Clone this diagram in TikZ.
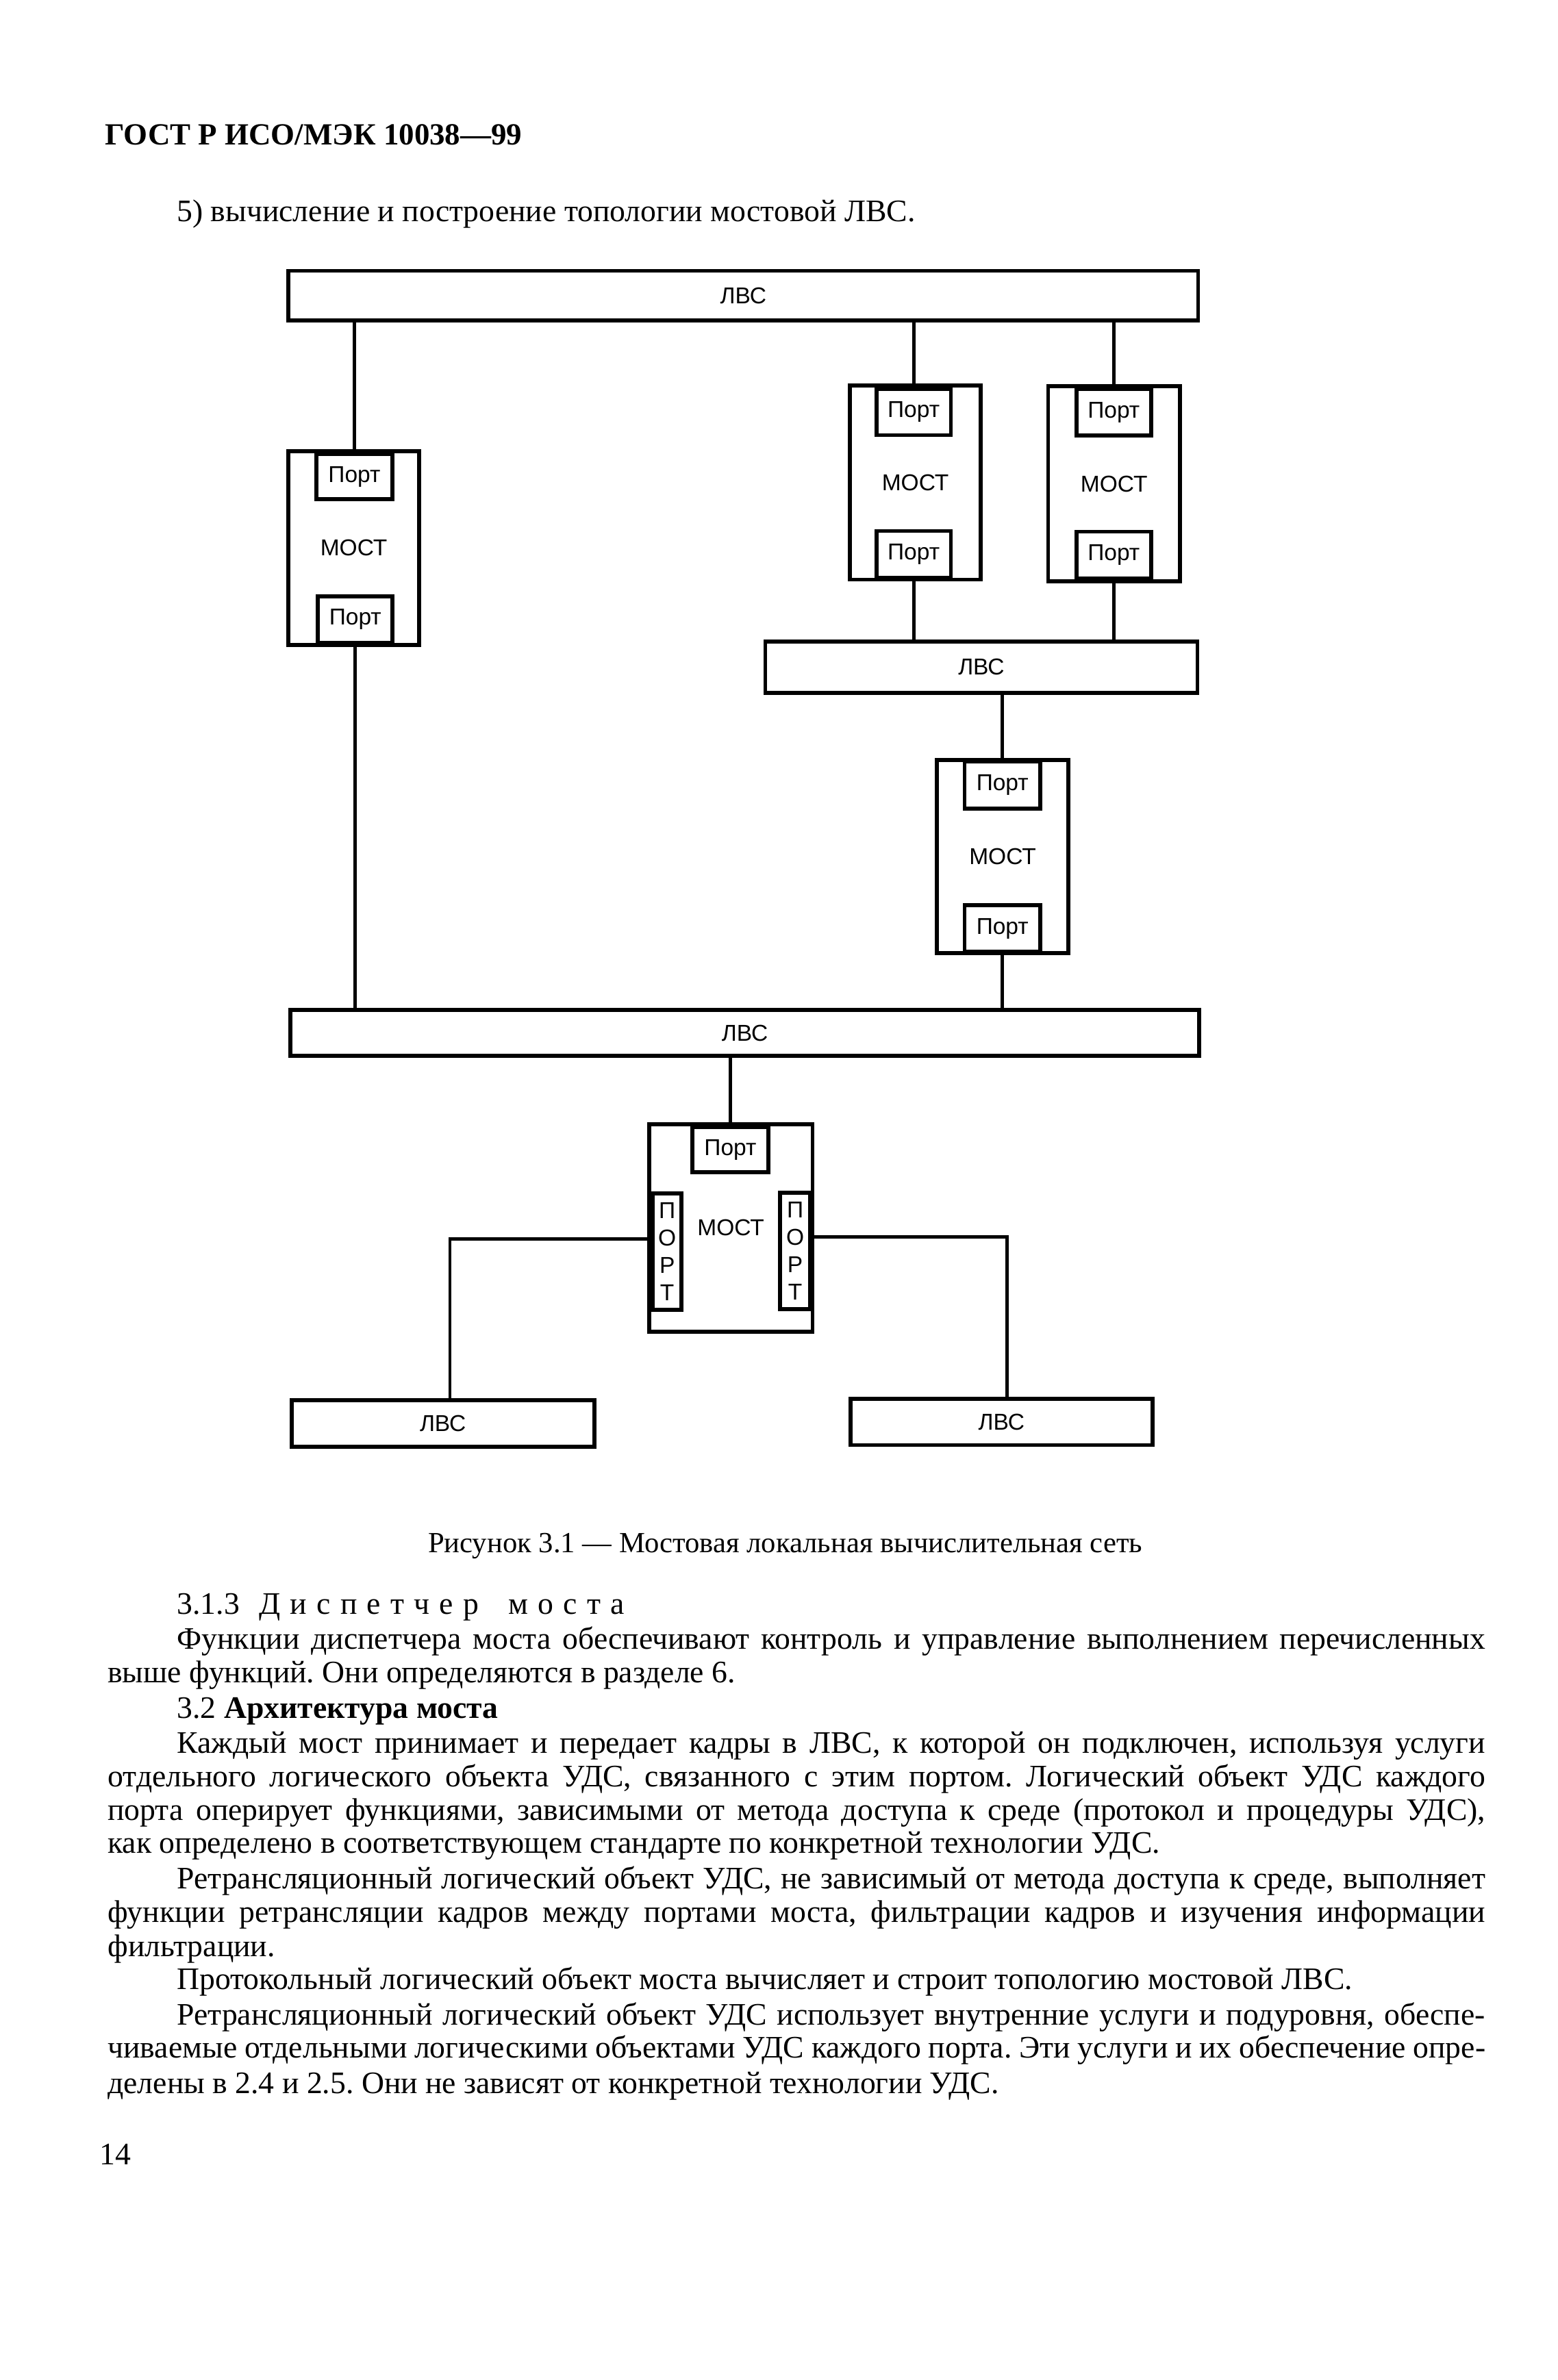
\documentclass[tikz,border=0pt]{standalone}
\usepackage{fontspec}
\setmainfont{Liberation Serif}
\newfontfamily\diagfont{Liberation Sans}
\newlength\fullw \setlength\fullw{528.2pt}
\newlength\indw \setlength\indw{501.6pt}
\frenchspacing
\begin{document}
\begin{tikzpicture}[x=0.5833pt,y=-0.5833pt,
  wh/.style 2 args={minimum width={#1*0.5833pt}, minimum height={#2*0.5833pt}},
  box/.style={draw, line width=1.5pt, fill=white, inner sep=0pt,
    font=\diagfont\fontsize{8.8}{10.5}\selectfont},
  conn/.style={line width=1.3pt},
  txt/.style={anchor=base west, inner sep=0pt, font=\fontsize{12}{13}\selectfont},
]
\useasboundingbox (0,0) rectangle (1024,1564.6);

% ---------- LANs ----------
\node[box, wh={598}{32.5}] (lanA) at (488.5,194.25) {ЛВС};
\node[box, wh={284}{34}]   (lanB) at (645,438.6) {ЛВС};
\node[box, wh={597}{30}]   (lanC) at (489.5,679) {ЛВС};
\node[box, wh={199}{30.5}] (lanD) at (291.1,935.75) {ЛВС};
\node[box, wh={198.5}{30.4}] (lanE) at (658.25,934.8) {ЛВС};

% ---------- bridges ----------
\node[box, wh={86}{127.5}] (brA) at (232.5,360.25) {МОСТ};
\node[box, wh={50}{29.5}] (pA1) at (232.9,313.3) {Порт};
\node[box, wh={49}{30.5}] (pA2) at (233.5,407.3) {Порт};

\node[box, wh={86}{127.5}] (brB) at (601.6,317.25) {МОСТ};
\node[box, wh={49}{30.5}] (pB1) at (600.5,270.75) {Порт};
\node[box, wh={49}{31}] (pB2) at (600.5,364.5) {Порт};

\node[box, wh={86.5}{128}] (brC) at (732.2,318) {МОСТ};
\node[box, wh={49}{30.5}] (pC1) at (732,271) {Порт};
\node[box, wh={49}{31}] (pC2) at (732,365) {Порт};

\node[box, wh={86.4}{127}] (brD) at (659,563) {МОСТ};
\node[box, wh={49.7}{31}] (pD1) at (658.85,516) {Порт};
\node[box, wh={49.7}{30.7}] (pD2) at (658.85,610.35) {Порт};

\node[box, wh={107.3}{136.5}] (brE) at (480.35,807.25) {МОСТ};
\node[box, wh={50}{29.5}] (pE1) at (480,755.75) {Порт};
\node[box, wh={19}{76.5}, align=center] (pEl) at (438.5,822.75) {П\\О\\Р\\Т};
\node[box, wh={19.8}{76.6}, align=center] (pEr) at (522.6,822.3) {П\\О\\Р\\Т};

% ---------- connectors ----------
\draw[conn] (pA1.north) -- (pA1.north |- lanA.south);
\draw[conn] (pB1.north) -- (pB1.north |- lanA.south);
\draw[conn] (pC1.north) -- (pC1.north |- lanA.south);
\draw[conn] (pB2.south) -- (pB2.south |- lanB.north);
\draw[conn] (pC2.south) -- (pC2.south |- lanB.north);
\draw[conn] (pD1.north) -- (pD1.north |- lanB.south);
\draw[conn] (pD2.south) -- (pD2.south |- lanC.north);
\draw[conn] (pA2.south) -- (pA2.south |- lanC.north);
\draw[conn] (pE1.north) -- (pE1.north |- lanC.south);
\draw[conn] ([yshift=4.8pt]pEl.west) -| ([xshift=2.7pt]lanD.north);
\draw[conn] ([yshift=5.4pt]pEr.east) -| ([xshift=2pt]lanE.north);

% ---------- page text ----------
\node[txt, font=\bfseries\fontsize{11.8}{14}\selectfont] (hdr) at (68.6,95) {ГОСТ Р ИСО/МЭК 10038—99};
\node[txt] (t0) at (116,145.5) {5) вычисление и построение топологии мостовой ЛВС.};
\node[txt, font=\fontsize{11.2}{13}\selectfont] (cap) at (281,1020.5) {Рисунок 3.1 — Мостовая локальная вычислительная сеть};

\node[txt] (t1) at (116,1061) {\makebox[171.5pt][s]{3.1.3 \ Д и с п е т ч е р \ \ м о с т а}};
\node[txt] (t2) at (116,1084) {\makebox[\indw][s]{Функции диспетчера моста обеспечивают контроль и управление выполнением перечисленных}};
\node[txt] (t3) at (70.5,1106) {выше функций. Они определяются в разделе 6.};
\node[txt] (t4) at (116,1129.5) {3.2 \textbf{Архитектура моста}};
\node[txt] (t5) at (116,1152.5) {\makebox[\indw][s]{Каждый мост принимает и передает кадры в ЛВС, к которой он подключен, используя услуги}};
\node[txt] (t6) at (70.5,1174.5) {\makebox[\fullw][s]{отдельного логического объекта УДС, связанного с этим портом. Логический объект УДС каждого}};
\node[txt] (t7) at (70.5,1196.5) {\makebox[\fullw][s]{порта оперирует функциями, зависимыми от метода доступа к среде (протокол и процедуры УДС),}};
\node[txt] (t8) at (70.5,1218) {как определено в соответствующем стандарте по конкретной технологии УДС.};
\node[txt] (t9) at (116,1241.5) {\makebox[\indw][s]{Ретрансляционный логический объект УДС, не зависимый от метода доступа к среде, выполняет}};
\node[txt] (t10) at (70.5,1263.5) {\makebox[\fullw][s]{функции ретрансляции кадров между портами моста, фильтрации кадров и изучения информации}};
\node[txt] (t11) at (70.5,1286) {фильтрации.};
\node[txt] (t12) at (116,1308) {Протокольный логический объект моста вычисляет и строит топологию мостовой ЛВС.};
\node[txt] (t13) at (116,1331) {\makebox[\indw][s]{Ретрансляционный логический объект УДС использует внутренние услуги и подуровня, обеспе-}};
\node[txt] (t14) at (70.5,1353) {\makebox[\fullw][s]{чиваемые отдельными логическими объектами УДС каждого порта. Эти услуги и их обеспечение опре-}};
\node[txt] (t15) at (70.5,1376) {делены в 2.4 и 2.5. Они не зависят от конкретной технологии УДС.};
\node[txt] (pg) at (65,1423) {14};
\end{tikzpicture}
\end{document}
